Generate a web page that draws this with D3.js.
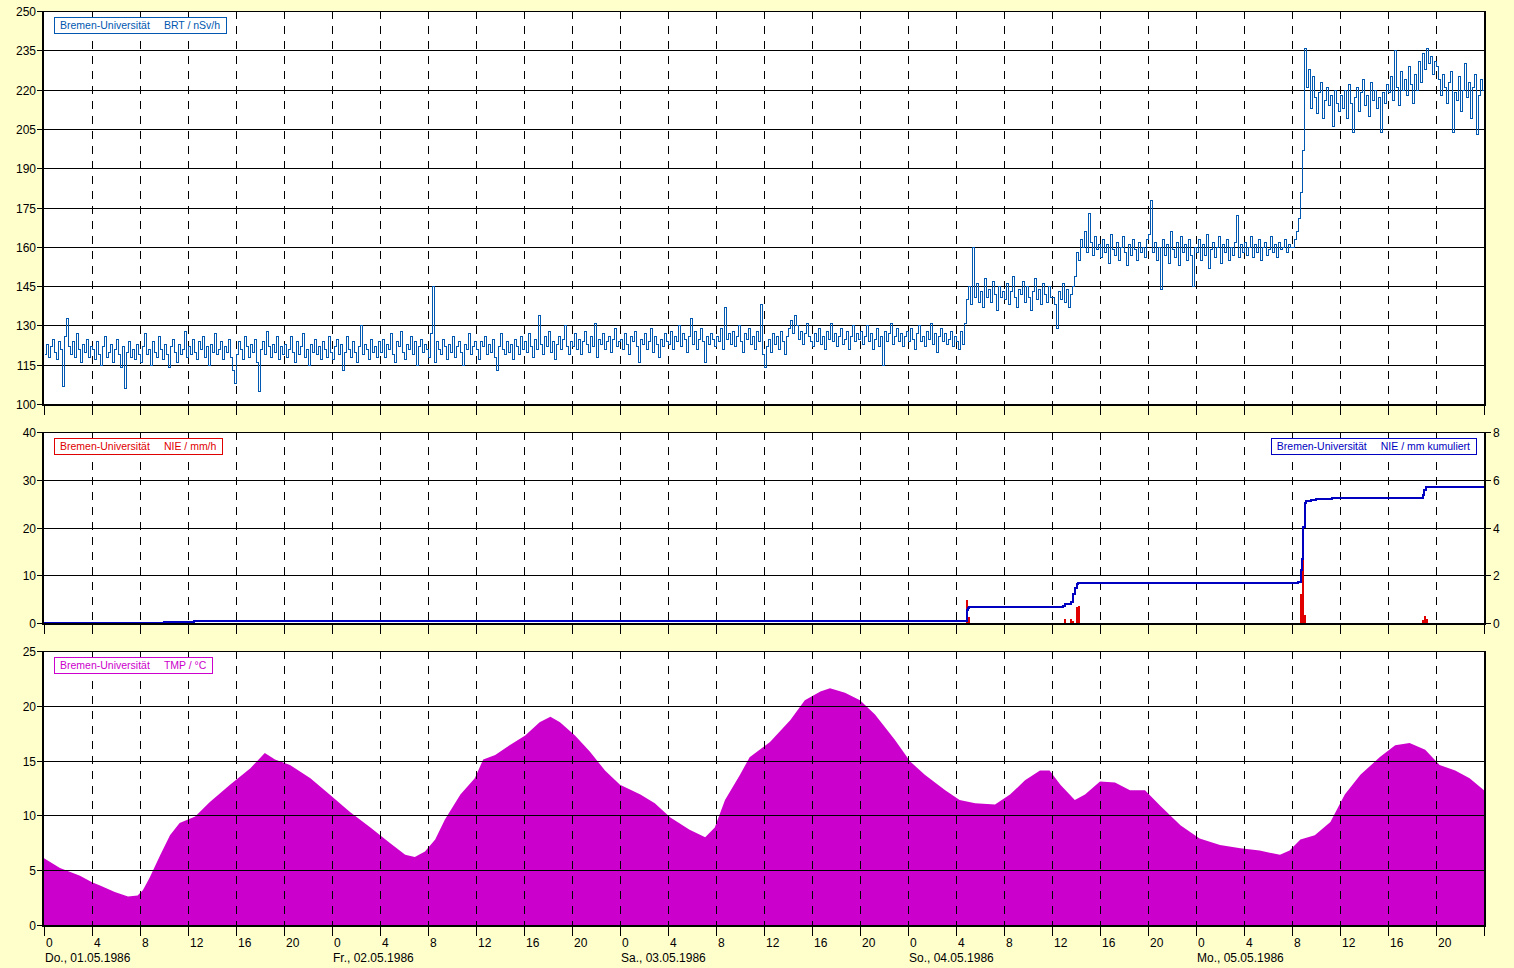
<!DOCTYPE html>
<html><head><meta charset="utf-8">
<script src="https://cdn.jsdelivr.net/npm/d3@7"></script>
<style>
html,body{margin:0;padding:0;background:#ffffcc;}
svg{display:block;}
text{font-family:"Liberation Sans",Arial,sans-serif;}
</style></head><body>
<svg id="c" width="1514" height="968"></svg>
<script>
// ---------- data ----------
const dayLabels = ["Do., 01.05.1986","Fr., 02.05.1986","Sa., 03.05.1986","So., 04.05.1986","Mo., 05.05.1986"];
const hourTickLabels = [0,4,8,12,16,20];
const brtTicks = [100,115,130,145,160,175,190,205,220,235,250];
const nieTicks = [0,10,20,30,40];
const cumTicks = [0,2,4,6,8];
const tmpTicks = [0,5,10,15,20,25];

const brtLegend = ["Bremen-Universität","BRT / nSv/h"];
const nieLegend = ["Bremen-Universität","NIE / mm/h"];
const cumLegend = ["Bremen-Universität","NIE / mm kumuliert"];
const tmpLegend = ["Bremen-Universität","TMP / °C"];

// BRT, 10-minute values (nSv/h), 24 values = 4 hours per row
const brtValues = [
119,123,118,122,125,120,117,124,121,107,126,133,122,119,124,118,127,121,116,123,120,125,118,122,
121,117,124,119,115,122,126,118,120,123,116,121,125,119,114,122,106,120,124,118,121,117,123,119,
116,122,127,119,121,115,124,120,118,126,121,117,123,119,114,122,125,120,116,123,119,121,128,118,
122,119,125,120,117,124,121,126,118,122,115,123,120,127,119,121,124,117,122,120,125,118,113,108,
119,124,121,117,126,122,118,123,120,125,116,105,121,124,119,128,122,118,123,120,126,117,122,119,
123,118,121,126,120,116,124,119,122,127,118,121,115,123,120,125,119,122,117,124,121,118,126,120,
117,122,125,119,123,113,120,126,121,118,124,120,116,122,130,119,123,121,117,125,120,122,118,124,
120,125,118,123,121,127,119,116,124,122,128,120,117,123,121,126,119,124,115,122,125,120,123,121,
118,127,145,116,124,121,119,125,122,117,123,120,126,118,122,124,120,115,123,121,127,119,122,124,
121,117,124,122,126,119,123,120,125,118,113,122,127,121,119,124,120,123,117,125,122,119,126,121,
124,120,127,122,118,125,121,134,123,119,126,122,128,120,124,117,123,126,121,125,130,122,119,124,
122,127,121,125,119,124,128,123,120,126,122,131,118,125,123,127,121,124,126,120,125,129,122,124,
125,121,127,123,119,126,124,128,122,116,125,123,127,121,124,129,120,126,123,118,125,122,127,124,
123,128,121,126,124,130,122,127,125,120,126,133,123,128,121,125,129,124,116,126,123,127,125,122,
126,124,129,121,137,125,127,123,128,122,126,130,124,120,127,125,129,123,126,121,128,124,138,119,
114,122,125,120,127,123,126,121,128,124,119,126,129,132,127,134,130,125,128,123,127,131,126,124,
122,127,124,129,123,126,121,128,125,131,124,127,122,126,129,123,125,128,121,126,130,124,127,125,
128,123,126,130,124,127,121,125,129,122,126,115,128,124,127,131,123,126,129,124,127,122,126,128,
124,129,125,121,127,130,124,126,122,128,125,131,123,127,120,126,129,124,127,123,125,128,122,126,
124,121,128,123,131,140,145,138,160,141,146,139,143,137,148,141,144,139,147,142,136,145,141,143,
140,146,138,143,149,141,137,144,142,147,139,145,141,136,143,148,140,144,138,146,142,139,145,141,
141,138,129,143,140,146,139,144,137,142,145,149,158,155,163,160,166,158,173,162,157,164,159,161,
156,163,158,161,154,165,159,157,162,155,160,164,158,153,161,157,163,159,155,162,158,160,156,163,
165,178,158,162,155,160,144,163,157,161,154,166,159,156,162,153,164,158,161,155,163,157,145,160,
158,163,155,161,157,165,152,159,162,156,160,164,154,161,158,163,155,160,157,162,172,156,161,158,
162,157,160,164,156,161,158,163,155,160,162,157,159,164,158,161,156,162,159,160,163,158,161,160,
160,163,166,171,181,197,236,221,228,213,225,217,211,219,223,209,216,221,214,218,206,220,215,212,
218,213,220,209,222,215,204,217,221,212,219,224,214,218,210,223,216,220,213,217,204,219,215,222,
219,225,216,235,221,214,227,220,224,218,229,222,215,226,220,231,223,234,228,236,230,233,226,231,
229,224,218,226,221,215,223,227,204,219,216,225,212,220,230,217,223,209,221,226,203,218,224,220
];

// Rain intensity (mm/h), 10-minute intervals starting at the given hour
const rainHours  = [76.83, 77.0, 85.0, 85.5, 85.67, 86.0, 86.17, 104.67, 104.83, 105.0, 114.83, 115.0, 115.17];
const rainValues = [4.8,   1.2,  0.8,  0.8,  0.4,   3.4,  3.6,   6.1,    20.2,   1.7,   0.6,    1.5,    0.8];

// Cumulative rain (mm), step values starting at the given hour
const cumHours  = [0, 10, 12.5, 76.9, 77.0, 77.1, 84.9, 85.1, 85.6, 85.75, 85.9, 86.05, 86.2, 104.5, 104.75, 104.85, 104.95, 105.05, 105.15, 105.6, 106.0, 107.3, 114.9, 115.0, 115.15, 115.3];
const cumValues = [0, 0.05, 0.1, 0.55, 0.62, 0.65, 0.72, 0.8, 0.9, 1.2, 1.45, 1.63, 1.66, 1.7, 2.22, 2.67, 4.03, 5.01, 5.12, 5.16, 5.19, 5.22, 5.35, 5.55, 5.68, 5.71];

// Temperature (°C)
const tmpHours = [0,1.33,3,4,4.67,5.9,7,7.8,8.25,8.8,9.7,10.5,11.3,12.6,13.8,15.5,17.2,18.4,19.25,20.5,22.2,23.8,25.5,27.2,28.8,30.1,30.9,31.75,32.6,33.4,34.7,35.9,36.6,37.6,38.8,40.1,41.3,42.2,43,44.25,45.5,46.75,48,49.7,50.9,52.2,53.8,55.1,55.9,56.75,58,58.8,60.5,62.2,63.4,64.7,65.5,66.75,68,69.25,70.9,72.2,73.4,75.1,76.3,77.6,79.25,80.5,81.75,83,83.8,84.7,85.9,86.75,88,89.25,90.5,91.75,93,94.7,96.3,98,99.7,101.3,103,103.8,104.7,105.9,107.2,108.4,109.7,111.3,112.6,113.8,115.1,116.3,117.6,118.8,120];
const tmpValues = [6.1,5.2,4.5,3.9,3.6,3.0,2.6,2.7,3.2,4.3,6.4,8.2,9.3,9.9,11.2,12.8,14.3,15.7,15.1,14.6,13.4,11.9,10.3,8.9,7.5,6.4,6.2,6.7,7.8,9.6,11.9,13.4,15.1,15.5,16.4,17.3,18.5,19.0,18.5,17.3,15.8,14.1,12.8,11.9,11.1,9.8,8.7,8.0,8.9,11.4,13.7,15.3,16.7,18.7,20.5,21.3,21.6,21.2,20.5,19.2,16.9,14.9,13.7,12.3,11.4,11.1,11.0,11.9,13.2,14.1,14.1,12.8,11.4,11.9,13.1,13.0,12.3,12.3,10.9,9.1,7.9,7.3,7.0,6.8,6.4,6.8,7.8,8.2,9.4,11.9,13.7,15.3,16.4,16.6,16.0,14.6,14.1,13.4,12.3];

// ---------- drawing ----------
const svg = d3.select("#c");
const X0 = 44, X1 = 1484, HOURS = 120;
const x = d3.scaleLinear().domain([0, HOURS]).range([X0, X1]);
const gridHours = d3.range(4, HOURS, 4);
const allTickHours = d3.range(0, HOURS + 1, 4);
const FONT = 12;

const panels = {
  brt: {top: 11, bottom: 404, domain: [100, 250], ticks: brtTicks},
  nie: {top: 432, bottom: 623, domain: [0, 40], ticks: nieTicks},
  tmp: {top: 651, bottom: 925, domain: [0, 25], ticks: tmpTicks}
};
for (const k in panels) {
  const p = panels[k];
  p.y = d3.scaleLinear().domain(p.domain).range([p.bottom, p.top]);
  p.g = svg.append("g");
  p.g.append("rect").attr("x", X0).attr("y", p.top).attr("width", X1 - X0).attr("height", p.bottom - p.top).attr("fill", "#ffffff");
  p.under = p.g.append("g");
  p.grid = p.g.append("g").attr("shape-rendering", "crispEdges");
  p.over = p.g.append("g");
  p.frame = p.g.append("g").attr("shape-rendering", "crispEdges");
}

function drawGrid(p) {
  p.grid.selectAll("line.h").data(p.ticks.filter(t => t !== p.domain[0])).join("line")
    .attr("x1", X0).attr("x2", X1)
    .attr("y1", d => Math.round(p.y(d)) + 0.5).attr("y2", d => Math.round(p.y(d)) + 0.5)
    .attr("stroke", "#000").attr("stroke-width", 1);
  p.grid.selectAll("line.v").data(gridHours).join("line")
    .attr("x1", d => x(d) + 0.5).attr("x2", d => x(d) + 0.5)
    .attr("y1", p.top).attr("y2", p.bottom)
    .attr("stroke", "#000").attr("stroke-width", 1)
    .attr("stroke-dasharray", "8,7").attr("stroke-dashoffset", 0);
}

function drawFrame(p, rightAxis) {
  const f = p.frame;
  f.append("line").attr("x1", X0 - 1).attr("x2", X0 - 1).attr("y1", p.top).attr("y2", p.bottom + 1).attr("stroke", "#000").attr("stroke-width", 2);
  f.append("line").attr("x1", X1 + 1).attr("x2", X1 + 1).attr("y1", p.top).attr("y2", p.bottom + 1).attr("stroke", "#000").attr("stroke-width", 2);
  f.append("line").attr("x1", X0 - 2).attr("x2", X1 + 2).attr("y1", p.bottom + 1).attr("y2", p.bottom + 1).attr("stroke", "#000").attr("stroke-width", 2);
  f.append("line").attr("x1", X0 - 2).attr("x2", X1 + 2).attr("y1", p.top + 0.5).attr("y2", p.top + 0.5).attr("stroke", "#000").attr("stroke-width", 1);
  f.selectAll("line.lt").data(p.ticks).join("line").attr("class", "lt")
    .attr("x1", X0 - 7).attr("x2", X0 - 1)
    .attr("y1", d => Math.round(p.y(d)) + 0.5).attr("y2", d => Math.round(p.y(d)) + 0.5)
    .attr("stroke", "#000");
  p.g.selectAll("text.ll").data(p.ticks).join("text").attr("class", "ll")
    .attr("x", X0 - 8).attr("y", d => Math.round(p.y(d)) + 4.5)
    .attr("text-anchor", "end").attr("font-size", FONT).attr("fill", "#000").text(d => d);
  f.selectAll("line.bt").data(allTickHours).join("line").attr("class", "bt")
    .attr("x1", d => x(d) + 0.5).attr("x2", d => x(d) + 0.5)
    .attr("y1", p.bottom + 1).attr("y2", p.bottom + 11)
    .attr("stroke", "#000");
  if (rightAxis) {
    const yr = rightAxis.y;
    f.selectAll("line.rt").data(rightAxis.ticks).join("line").attr("class", "rt")
      .attr("x1", X1 + 1).attr("x2", X1 + 7)
      .attr("y1", d => Math.round(yr(d)) + 0.5).attr("y2", d => Math.round(yr(d)) + 0.5)
      .attr("stroke", "#000");
    p.g.selectAll("text.rl").data(rightAxis.ticks).join("text").attr("class", "rl")
      .attr("x", X1 + 9).attr("y", d => Math.round(yr(d)) + 4.5)
      .attr("text-anchor", "start").attr("font-size", FONT).attr("fill", "#000").text(d => d);
  }
}

function legend(g, parts, color, lx, ly, alignRight) {
  const lg = g.append("g");
  const rect = lg.append("rect").attr("fill", "#fff").attr("stroke", color).attr("stroke-width", 1).attr("shape-rendering", "crispEdges");
  const t1 = lg.append("text").attr("font-size", 10.5).attr("fill", color).text(parts[0]);
  const w1 = t1.node().getComputedTextLength();
  const t2 = lg.append("text").attr("font-size", 10.5).attr("fill", color).text(parts[1]);
  const w2 = t2.node().getComputedTextLength();
  const gap = 14, pad = 6;
  const W = pad + w1 + gap + w2 + pad, H = 16;
  const left = alignRight ? lx - W : lx;
  rect.attr("x", Math.round(left) + 0.5).attr("y", ly + 0.5).attr("width", Math.round(W)).attr("height", H);
  t1.attr("x", left + pad).attr("y", ly + 12);
  t2.attr("x", left + pad + w1 + gap).attr("y", ly + 12);
}

// --- BRT panel
{
  const p = panels.brt;
  drawGrid(p);
  const pts = brtValues.map((v, i) => [i / 6, v]);
  pts.push([HOURS, brtValues[brtValues.length - 1]]);
  const line = d3.line().x(d => Math.round(x(d[0])) + 0.5).y(d => Math.round(p.y(d[1])) + 0.5).curve(d3.curveStepAfter);
  p.over.append("path").attr("d", line(pts)).attr("fill", "none").attr("stroke", "#0058b0").attr("stroke-width", 1).attr("shape-rendering", "crispEdges");
  drawFrame(p);
  legend(p.g, brtLegend, "#0058b0", 54, 17, false);
}

// --- NIE panel
{
  const p = panels.nie;
  drawGrid(p);
  const yc = d3.scaleLinear().domain([0, 8]).range([p.bottom, p.top]);
  const step = x(1 / 6) - x(0);
  p.over.selectAll("rect.rain").data(rainHours.map((h, i) => [h, rainValues[i]])).join("rect")
    .attr("x", d => Math.round(x(d[0]))).attr("width", step)
    .attr("y", d => Math.round(p.y(d[1]))).attr("height", d => Math.round(p.y(0)) - Math.round(p.y(d[1])))
    .attr("fill", "#e00000").attr("shape-rendering", "crispEdges");
  const cpts = cumHours.map((h, i) => [h, cumValues[i]]);
  cpts.push([HOURS, cumValues[cumValues.length - 1]]);
  const cline = d3.line().x(d => Math.round(x(d[0]))).y(d => Math.round(yc(d[1]))).curve(d3.curveStepAfter);
  p.over.append("path").attr("d", cline(cpts)).attr("fill", "none").attr("stroke", "#0000c0").attr("stroke-width", 2).attr("shape-rendering", "crispEdges");
  drawFrame(p, {y: yc, ticks: cumTicks});
  legend(p.g, nieLegend, "#e00000", 54, 438, false);
  legend(p.g, cumLegend, "#0000c0", 1476, 438, true);
}

// --- TMP panel
{
  const p = panels.tmp;
  const area = d3.area().x(d => x(d[0])).y0(p.y(0)).y1(d => p.y(d[1]));
  p.under.append("path").attr("d", area(tmpHours.map((h, i) => [h, tmpValues[i]]))).attr("fill", "#cc00cc");
  drawGrid(p);
  drawFrame(p);
  legend(p.g, tmpLegend, "#cc00cc", 54, 657, false);
}

// --- hour & day labels
const labelG = svg.append("g");
for (let d = 0; d < 5; d++) {
  hourTickLabels.forEach(h => {
    labelG.append("text").attr("x", x(d * 24 + h) + 2).attr("y", 947)
      .attr("font-size", FONT).attr("fill", "#000").text(h);
  });
  labelG.append("text").attr("x", x(d * 24) + 1).attr("y", 962)
    .attr("font-size", FONT).attr("fill", "#000").text(dayLabels[d]);
}
</script>
</body></html>
